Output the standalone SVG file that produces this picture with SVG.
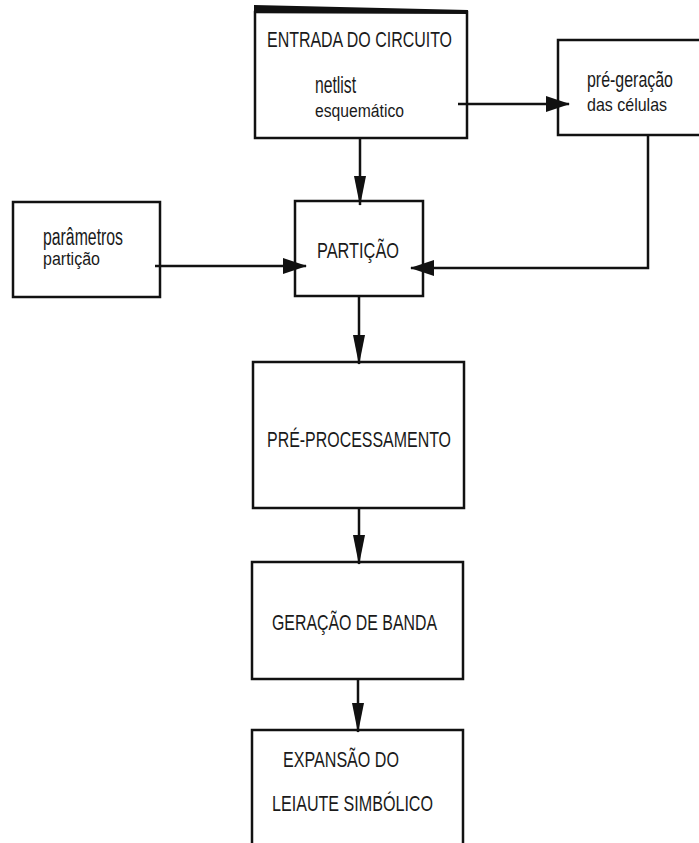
<svg xmlns="http://www.w3.org/2000/svg" width="699" height="843" viewBox="0 0 699 843">
<style>
.box{fill:#fff;stroke:#111;stroke-width:2.5}
.ln{fill:none;stroke:#111;stroke-width:2.5}
.t{font-family:"Liberation Sans",Arial,sans-serif;fill:#1a1a1a}
</style>
<defs>
<marker id="av" markerUnits="userSpaceOnUse" markerWidth="12" markerHeight="30" refX="6" refY="29" orient="0" viewBox="0 0 12 30">
<path d="M0,0 L12,0 L6,30 z" fill="#111"/>
</marker>
<marker id="ah" markerUnits="userSpaceOnUse" markerWidth="24" markerHeight="16" refX="23" refY="8" orient="auto" viewBox="0 0 24 16">
<path d="M0,0 L24,8 L0,16 z" fill="#111"/>
</marker>
</defs>
<rect width="699" height="843" fill="#fff"/>

<g id="entrada">
<rect class="box" x="255" y="12" width="212" height="126"/>
<polygon points="254,5 468,10 468,14 254,13" fill="#111"/>
<text class="t" x="267" y="47" font-size="22" textLength="185" lengthAdjust="spacingAndGlyphs">ENTRADA DO CIRCUITO</text>
<text class="t" x="315" y="93" font-size="24" textLength="41" lengthAdjust="spacingAndGlyphs">netlist</text>
<text class="t" x="315" y="117" font-size="18" textLength="89" lengthAdjust="spacingAndGlyphs">esquemático</text>
</g>

<g id="pregeracao">
<path class="box" d="M699,40 H558 V135 H699"/>
<text class="t" transform="translate(587,87) scale(0.725,1)" x="0" y="0" font-size="22">pré-geração</text>
<text class="t" transform="translate(587,111) scale(0.89,1)" x="0" y="0" font-size="18">das células</text>
</g>

<g id="parametros">
<rect class="box" x="13" y="202" width="147" height="95"/>
<text class="t" x="43" y="245" font-size="23" textLength="80" lengthAdjust="spacingAndGlyphs">parâmetros</text>
<text class="t" x="43" y="265" font-size="18" textLength="57" lengthAdjust="spacingAndGlyphs">partição</text>
</g>

<g id="particao">
<rect class="box" x="295" y="201" width="128" height="95"/>
<text class="t" x="317" y="258" font-size="22" textLength="82" lengthAdjust="spacingAndGlyphs">PARTIÇÃO</text>
</g>

<g id="preprocessamento">
<rect class="box" x="253" y="362" width="211" height="146"/>
<text class="t" x="267" y="447" font-size="22" textLength="184" lengthAdjust="spacingAndGlyphs">PRÉ-PROCESSAMENTO</text>
</g>

<g id="geracao">
<rect class="box" x="252" y="562" width="211" height="117"/>
<text class="t" x="272" y="630" font-size="22" textLength="165" lengthAdjust="spacingAndGlyphs">GERAÇÃO DE BANDA</text>
</g>

<g id="expansao">
<path class="box" d="M252,843 V730 H463 V843"/>
<text class="t" x="283" y="767" font-size="22" textLength="116" lengthAdjust="spacingAndGlyphs">EXPANSÃO DO</text>
<text class="t" x="272" y="811" font-size="22" textLength="161" lengthAdjust="spacingAndGlyphs">LEIAUTE SIMBÓLICO</text>
</g>

<g id="connectors">
<line class="ln" x1="360" y1="138" x2="360" y2="205" marker-end="url(#av)"/>
<line class="ln" x1="458" y1="104" x2="569" y2="104" stroke-width="3" marker-end="url(#ah)"/>
<line class="ln" x1="155" y1="266" x2="306" y2="266" marker-end="url(#ah)"/>
<polyline class="ln" points="648,135 648,268 411,268" marker-end="url(#ah)"/>
<line class="ln" x1="359" y1="296" x2="359" y2="364" marker-end="url(#av)"/>
<line class="ln" x1="359" y1="508" x2="359" y2="564" marker-end="url(#av)"/>
<line class="ln" x1="358" y1="679" x2="358" y2="732" marker-end="url(#av)"/>
</g>
</svg>
